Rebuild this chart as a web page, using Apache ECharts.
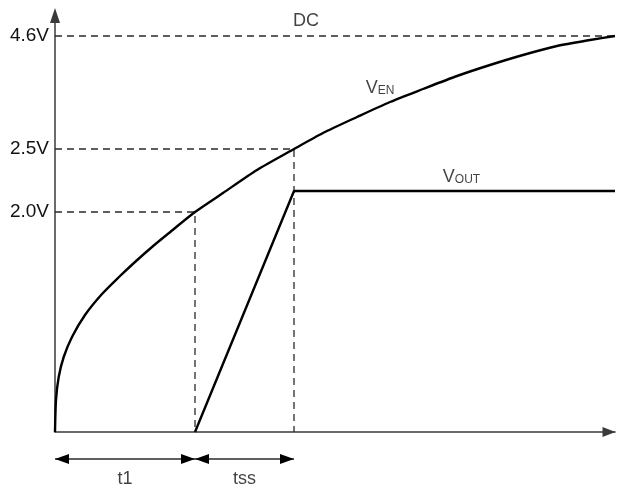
<!DOCTYPE html>
<html>
<head>
<meta charset="utf-8">
<script src="https://cdn.jsdelivr.net/npm/echarts@6/dist/echarts.min.js"></script>
<style>
  html, body { margin: 0; padding: 0; background: #ffffff; }
  #chart { width: 617px; height: 486px; }
</style>
</head>
<body>
<div id="chart"></div>
<script>
// Enable-pin soft-start timing: V_EN charges toward DC, V_OUT ramps during tss.
// Time and level are in schematic units (the voltage axis is not to scale).

// V_EN charging curve
const enTime  = [0, 1, 3.7, 8.7, 17, 30, 47, 64, 80, 97, 114, 140, 168, 202, 239, 268, 302, 335, 368, 402, 435, 468, 502, 535, 560];
const enLevel = [0, 32, 55, 75, 95, 117, 138, 155, 170, 185, 199, 220, 239, 262, 283, 299, 315, 330, 343, 356, 367, 377, 386, 392, 396];

// V_OUT soft-start ramp and plateau
const outTime  = [140, 239, 560];
const outLevel = [0, 241, 241];

// Threshold levels on the vertical axis
const tickLevels = [220, 283, 396];
const tickLabels = ['2.0V', '2.5V', '4.6V'];

// Event times: EN reaches 2.0V (end of t1), end of soft start (tss)
const t1End = 140;
const tssEnd = 239;
const dcLevel = 396;
const axisEnd = 560;

const INK = '#111111';
const AXIS = '#3a3a3a';
const FONT = '"Liberation Sans", Arial, sans-serif';

const dashStyle = { color: '#2a2a2a', width: 1.3, type: [7, 5] };

function guide(points) {
  return {
    type: 'line',
    data: points,
    symbol: 'none',
    silent: true,
    clip: false,
    lineStyle: dashStyle,
    z: 1
  };
}

// Double-headed dimension arrow drawn below the time axis
const dimY = -27;
function dimension(x0, x1) {
  return {
    type: 'line',
    clip: false,
    silent: true,
    lineStyle: { color: '#2a2a2a', width: 1.4 },
    symbolSize: [10, 14],
    data: [
      { value: [x0, dimY], symbol: 'triangle', symbolRotate: 90, symbolOffset: [7, 0] },
      { value: [x1, dimY], symbol: 'triangle', symbolRotate: -90, symbolOffset: [-7, 0] }
    ],
    itemStyle: { color: '#000000' },
    z: 2
  };
}

const sub = { fontSize: 12, lineHeight: 12, verticalAlign: 'bottom', fontFamily: FONT, color: INK };
const main = { fontSize: 18, lineHeight: 20, verticalAlign: 'bottom', fontFamily: FONT, color: INK };

// Text annotations anchored in chart units
const notes = [
  { value: [251, 411], text: 'DC' },
  { value: [325, 345], text: '{v|V}{s|EN}' },
  { value: [406.5, 256], text: '{v|V}{s|OUT}' },
  { value: [t1End / 2, -47], text: 't1' },
  { value: [(t1End + tssEnd) / 2, -47], text: 'tss' }
];

const chart = echarts.init(document.getElementById('chart'), null, { renderer: 'canvas' });

chart.setOption({
  animation: false,
  backgroundColor: '#ffffff',
  grid: { left: 55, right: 2, top: 16, bottom: 54, containLabel: false },
  xAxis: {
    type: 'value',
    min: 0,
    max: axisEnd,
    splitLine: { show: false },
    axisTick: { show: false },
    axisLabel: { show: false },
    axisLine: {
      show: true,
      onZero: false,
      lineStyle: { color: AXIS, width: 1.5 },
      symbol: ['none', 'triangle'],
      symbolSize: [10, 13],
      symbolOffset: [0, -6]
    }
  },
  yAxis: {
    type: 'value',
    min: 0,
    max: 416,
    splitLine: { show: false },
    axisTick: { show: false },
    axisLine: {
      show: true,
      onZero: false,
      lineStyle: { color: AXIS, width: 1.5 },
      symbol: ['none', 'triangle'],
      symbolSize: [10, 15],
      symbolOffset: [0, 0.5]
    },
    axisLabel: {
      show: true,
      customValues: tickLevels,
      margin: 6,
      fontSize: 19,
      fontFamily: FONT,
      color: INK,
      formatter: function (v) {
        const i = tickLevels.indexOf(v);
        return i >= 0 ? tickLabels[i] : '';
      }
    }
  },
  series: [
    // DC level and threshold guides
    guide([[0, dcLevel], [axisEnd, dcLevel]]),
    guide([[0, tickLevels[1]], [tssEnd, tickLevels[1]], [tssEnd, 0]]),
    guide([[0, tickLevels[0]], [t1End, tickLevels[0]], [t1End, 0]]),
    {
      name: 'V_EN',
      type: 'line',
      data: enTime.map((t, i) => [t, enLevel[i]]),
      smooth: 0.25,
      symbol: 'none',
      clip: false,
      lineStyle: { color: '#000000', width: 2.4 },
      z: 3
    },
    {
      name: 'V_OUT',
      type: 'line',
      data: outTime.map((t, i) => [t, outLevel[i]]),
      symbol: 'none',
      clip: false,
      lineStyle: { color: '#000000', width: 2.4 },
      z: 3
    },
    dimension(0, t1End),
    dimension(t1End, tssEnd),
    {
      type: 'scatter',
      clip: false,
      silent: true,
      symbolSize: 0,
      data: notes.map(n => ({ value: n.value, label: { formatter: n.text } })),
      label: {
        show: true,
        position: 'inside',
        fontSize: 18,
        fontFamily: FONT,
        color: INK,
        rich: { v: main, s: sub }
      },
      z: 4
    }
  ]
});
</script>
</body>
</html>
